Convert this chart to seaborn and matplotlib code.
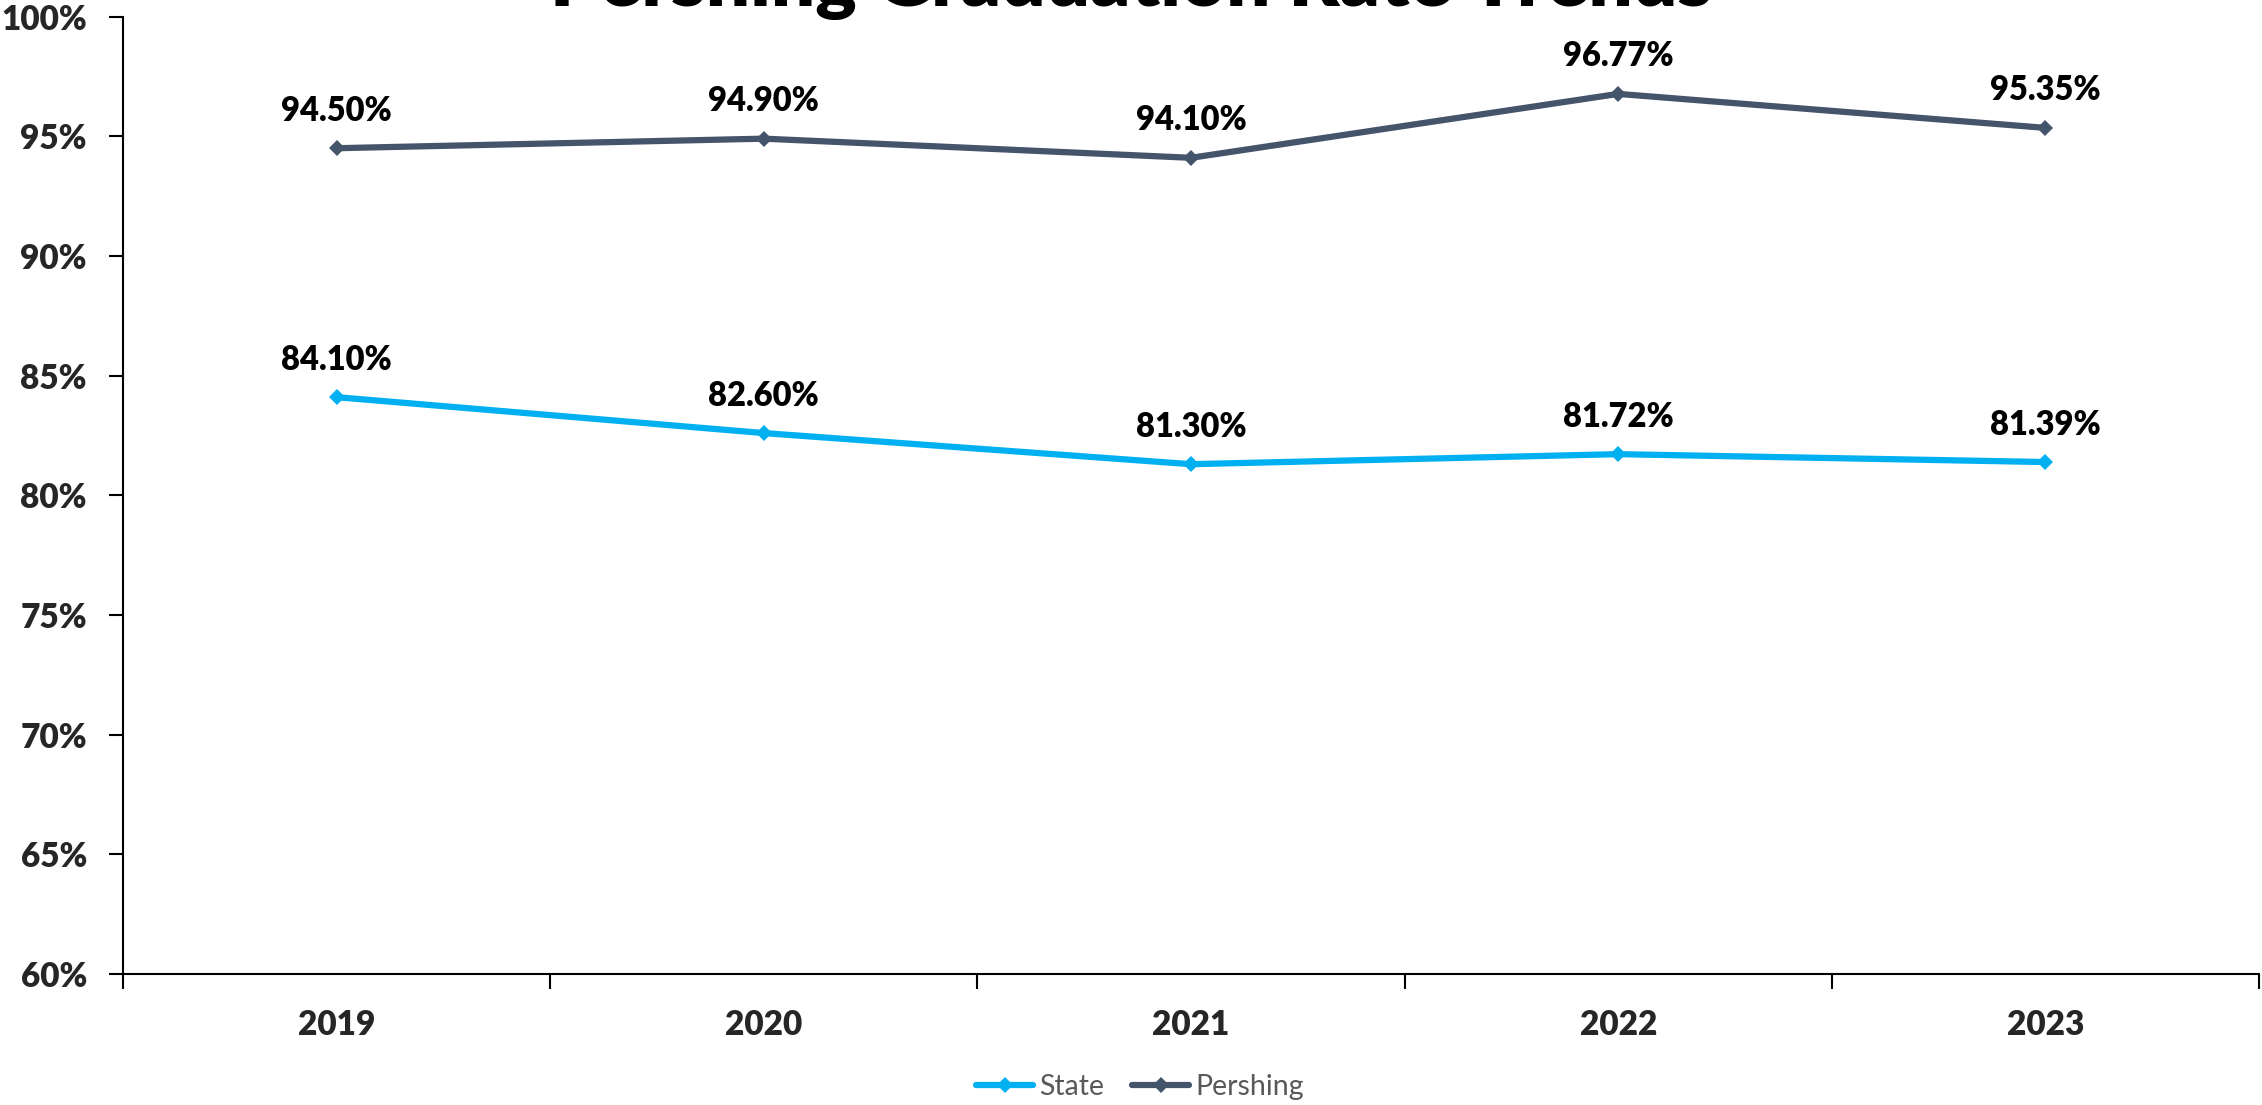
import pandas as pd
import matplotlib
matplotlib.use('Agg')
import matplotlib.pyplot as plt
import seaborn as sns
from matplotlib.ticker import PercentFormatter

years = ['2019', '2020', '2021', '2022', '2023']
state = [84.10, 82.60, 81.30, 81.72, 81.39]
pershing = [94.50, 94.90, 94.10, 96.77, 95.35]
series_names = ['State', 'Pershing']
colors = ['#00B0F0', '#44546A']

df = pd.DataFrame({
    'year': years * 2,
    'rate': [v / 100 for v in state + pershing],
    'series': ['State'] * len(years) + ['Pershing'] * len(years),
})

sns.set_style('white')
plt.rcParams['font.family'] = ['Lato', 'DejaVu Sans']

fig = plt.figure(figsize=(22.62, 11.05), dpi=100)
ax = fig.add_axes([0.0544, 0.1185, 0.9443, 0.8665])

sns.lineplot(data=df, x='year', y='rate', hue='series', hue_order=series_names,
             palette=colors, marker='D', markersize=8, linewidth=4.5,
             markeredgewidth=0, ax=ax)

# data labels
for vals, name in zip([state, pershing], series_names):
    for i, v in enumerate(vals):
        ax.annotate(f'{v:.2f}%', (i, v / 100), xytext=(0, 27), textcoords='offset points',
                    ha='center', va='center', fontsize=23.5, fontweight='heavy', color='black')

ax.set_xlim(-0.5, 4.5)
ax.set_ylim(0.60, 1.00)
ax.set_yticks([0.60 + 0.05 * k for k in range(9)])
ax.yaxis.set_major_formatter(PercentFormatter(1.0, decimals=0))
ax.set_xticks(range(5))
ax.set_xticks([x - 0.5 for x in range(6)], minor=True)
ax.tick_params(axis='x', which='major', bottom=False, length=0, pad=25, labelsize=24)
ax.tick_params(axis='x', which='minor', bottom=True, length=11, width=1.5, color='black', direction='out')
ax.tick_params(axis='y', left=True, length=10, width=1.5, color='black', direction='out', pad=16, labelsize=24)
for lab in ax.get_xticklabels() + ax.get_yticklabels():
    lab.set_fontweight('heavy')
ax.set_xlabel('')
ax.set_ylabel('')
for side in ['top', 'right']:
    ax.spines[side].set_visible(False)
for side in ['left', 'bottom']:
    ax.spines[side].set_color('black')
    ax.spines[side].set_linewidth(1.5)

ax.legend_.remove()
handles, labels = ax.get_legend_handles_labels()
leg = fig.legend(handles, labels, loc='center', bbox_to_anchor=(0.504, 1 - 1087 / 1105), ncol=2,
                 frameon=False, fontsize=20.5, handlelength=2.0, handletextpad=0.2,
                 columnspacing=1.0, labelcolor='#595959')

fig.text(0.5, 1 - 6 / 1105, 'Pershing Graduation Rate Trends', ha='center', va='baseline',
         fontsize=56, fontweight='heavy', color='black')

fig.savefig('out.png', dpi=100)
